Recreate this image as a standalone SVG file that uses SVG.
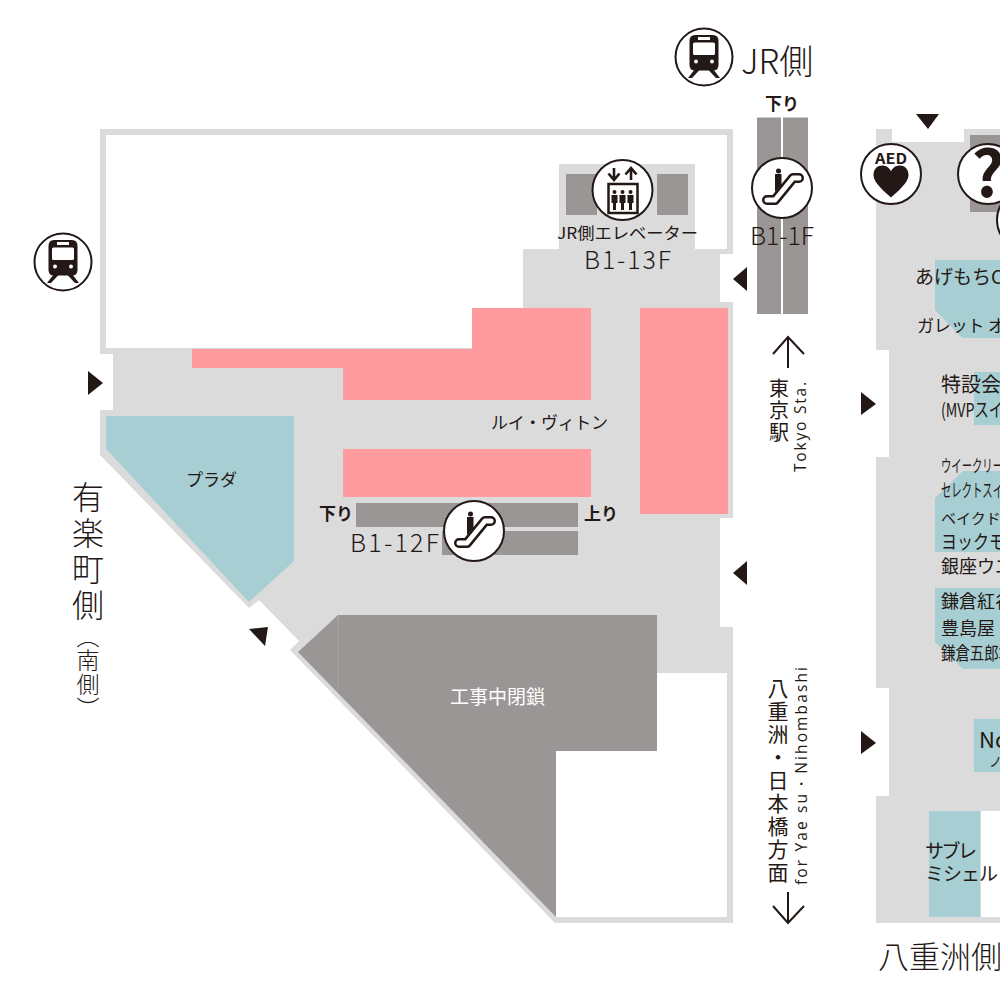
<svg xmlns="http://www.w3.org/2000/svg" width="1000" height="1000" viewBox="0 0 1000 1000">
<style>
.f{fill:#dcdbdc}.w{fill:#fff}.p{fill:#ff9a9e}.t{fill:#a7ced3}.d{fill:#9b9696}.k{fill:#231815}
.c{fill:#fff;stroke:#231815;stroke-width:2}
text{font-family:"Noto Sans CJK JP","Noto Sans",sans-serif;fill:#231815;font-weight:300}
.b{font-weight:700}.r{font-weight:400}
.v{writing-mode:vertical-rl;text-anchor:start}
.lat{font-family:"Open Sans","Noto Sans",sans-serif;font-weight:400}
.ln{fill:none;stroke:#231815;stroke-width:2}
</style>
<defs>
<g id="train"><circle class="c" r="28.5"/>
<path class="k" d="M-9,-22H9Q14.500,-22 14.500,-16V8Q14.500,13.500 9,13.500H-9Q-14.500,13.500 -14.500,8V-16Q-14.500,-22 -9,-22Z"/>
<path class="k" d="M-9,12L-16,21H-12L-4.500,13ZM9,12L16,21H12L4.500,13Z"/>
<rect class="w" x="-11" y="-14.500" width="22" height="12.500" rx="1.500"/>
<rect class="w" x="-6" y="-20" width="12" height="3"/>
<circle class="w" cx="-8" cy="4.500" r="2"/><circle class="w" cx="8" cy="4.500" r="2"/></g>
<g id="esc"><circle class="c" r="30"/>
<circle class="k" cx="-3.500" cy="-17" r="2.500"/>
<path class="k" d="M-7,-14H-0.500V-3L-7,4Z"/>
<path d="M-15,12H-7L11,-10H17" fill="none" stroke="#231815" stroke-width="10" stroke-linecap="round" stroke-linejoin="round"/>
<path d="M-15,12H-7L11,-10H17" fill="none" stroke="#fff" stroke-width="5" stroke-linecap="round" stroke-linejoin="round"/></g>
<g id="pp"><circle class="k" cy="-8" r="2"/><path class="k" d="M-3,-5H3V3H1.500V10H-1.500V3H-3Z"/></g>
</defs>

<g id="left-floor">
<path class="f" d="M100,129H733V254H720V302H733V518H720V627H733V923H555L290,650L299,641L259,600L249,608L100,455V410H113V354H100Z"/>
<path class="w" d="M106,135H727V249H695V164H559V249H523V308H472V348H106Z"/>
<path class="w" d="M657,673H727V917H556V751H657Z"/>
<path class="p" d="M472,308H591V400H343V368H192V349H472Z"/>
<rect class="p" x="640" y="308" width="88" height="206"/>
<rect class="p" x="343" y="449" width="248" height="48"/>
<path class="t" d="M106,416H294V561L249,602L106,449Z"/>
<path class="d" d="M338,615H657V751H556V917L298,652Z"/>
<path d="M338,615V690" stroke="#aaa6a6" stroke-width="1" fill="none"/>
</g>

<g id="right-floor">
<path class="f" d="M876,129H892V142H964V129H1000V923H876V796H889V688H876V457H889V350H876Z"/>
<rect class="d" x="970" y="135" width="30" height="77"/>
<path class="t" d="M935,260H1000V338H962L935,310Z"/>
<rect class="t" x="974" y="372" width="26" height="53"/>
<path class="t" d="M963,471H1000V552H935V498Z"/>
<path class="t" d="M935,588H1000V669H963L935,642Z"/>
<rect class="t" x="974" y="719" width="26" height="53"/>
<rect class="t" x="929" y="811" width="51" height="106"/>
<rect class="w" x="981" y="811" width="19" height="106"/>
</g>

<g id="escalators">
<rect class="d" x="757" y="117.500" width="24" height="196.500"/>
<rect class="d" x="783" y="117.500" width="25" height="196.500"/>
<rect class="d" x="356" y="503" width="222" height="24"/>
<rect class="d" x="442" y="531" width="136" height="24"/>
</g>

<g id="elevator-hall">
<rect class="f" x="559" y="164" width="136" height="90"/>
<rect class="d" x="566" y="174" width="31" height="41"/>
<rect class="d" x="657" y="174" width="31" height="41"/>
<circle class="c" cx="622.500" cy="190" r="30"/>
<rect x="608.500" y="184" width="29" height="29" fill="#fff" stroke="#231815" stroke-width="2.500"/>
<use href="#pp" x="614.500" y="200"/><use href="#pp" x="622.500" y="200"/><use href="#pp" x="630.500" y="200"/>
<path class="ln" stroke-width="2.600" style="stroke-width:2.600" d="M614,168V179M608.500,173.500L614,180L619.500,173.500M631,180V169M625.500,174.500L631,168L636.500,174.500"/>
</g>

<g id="markers">
<path class="k" d="M733,279L747,267V291Z"/>
<path class="k" d="M733,573L747,561V585Z"/>
<path class="k" d="M88,371L103,383L88,395Z"/>
<path class="k" d="M861,392L876,404L861,415Z"/>
<path class="k" d="M861,731L876,743L861,754Z"/>
<path class="k" d="M916,114H939L928,129Z"/>
<path class="k" d="M249,629L268,627L265,646Z"/>
<path class="ln" d="M788,337V368M773,354L788,337L804,354"/>
<path class="ln" d="M788,892V923M773,906L788,923L804,906"/>
</g>

<g id="icons">
<use href="#train" x="704" y="57"/>
<use href="#train" x="63" y="262"/>
<use href="#esc" x="782" y="188"/>
<use href="#esc" x="474" y="531"/>
<circle class="c" cx="891" cy="174" r="30"/>
<text x="875" y="164" class="b" font-size="14.500" textLength="32" lengthAdjust="spacingAndGlyphs">AED</text>
<path class="k" d="M891,197.500C879,187 873.500,181 873.500,175C873.500,163 888,163 891,171.500C894,163 908.500,163 908.500,175C908.500,181 903,187 891,197.500Z"/>
<circle class="c" cx="988" cy="174" r="30"/>
<text x="988" y="197" class="b" font-size="64" text-anchor="middle">?</text>
<circle class="c" cx="1027" cy="220" r="30"/>
</g>

<g id="labels">
<text x="741" y="74" font-size="34">JR側</text>
<text x="765" y="110" class="b" font-size="17">下り</text>
<text x="557" y="239" class="r" font-size="16" textLength="141" lengthAdjust="spacingAndGlyphs">JR側エレベーター</text>
<text x="584" y="269" font-size="25" textLength="87" lengthAdjust="spacing">B1-13F</text>
<text x="750" y="245" font-size="25" textLength="64" lengthAdjust="spacing">B1-1F</text>
<text x="350" y="552" font-size="25" textLength="89" lengthAdjust="spacing">B1-12F</text>
<text x="319" y="520" class="b" font-size="17">下り</text>
<text x="584" y="520" class="b" font-size="17">上り</text>
<text x="491" y="429" class="r" font-size="17" textLength="117">ルイ・ヴィトン</text>
<text x="186" y="486" class="r" font-size="17">プラダ</text>
<text x="450" y="704" class="r" font-size="19" style="fill:#fff">工事中閉鎖</text>

<text x="88" y="481" class="v" font-size="32" letter-spacing="4">有楽町側</text>
<text x="88" y="625" class="v" font-size="23" letter-spacing="1">（南側）</text>
<text x="779" y="378" class="v r" font-size="20" letter-spacing="2">東京駅</text>
<text x="778" y="678" class="v r" font-size="21" letter-spacing="2">八重洲・日本橋方面</text>
<text transform="translate(806,472) rotate(-90)" class="lat" font-size="15.500" textLength="90">Tokyo Sta.</text>
<text transform="translate(807,885) rotate(-90)" class="lat" font-size="15.500" textLength="218">for Yae su・Nihombashi</text>

<text x="915" y="284" class="r" font-size="19">あげもちC</text>
<text x="917" y="332" class="r" font-size="17" textLength="88">ガレット オ</text>
<text x="941" y="392" class="r" font-size="20">特設会</text>
<text x="941" y="417" class="r" font-size="19" textLength="62" lengthAdjust="spacingAndGlyphs">(MVPスイ</text>
<text x="941" y="472" class="r" font-size="17" textLength="62" lengthAdjust="spacingAndGlyphs">ウイークリー</text>
<text x="941" y="497" class="r" font-size="18" textLength="62" lengthAdjust="spacingAndGlyphs">セレクトスイ</text>
<text x="941" y="524" class="r" font-size="15">ベイクド</text>
<text x="941" y="549" class="r" font-size="19" textLength="64" lengthAdjust="spacingAndGlyphs">ヨックモ</text>
<text x="941" y="573" class="r" font-size="18">銀座ウエ</text>
<text x="941" y="608" class="r" font-size="18">鎌倉紅谷</text>
<text x="941" y="635" class="r" font-size="18">豊島屋</text>
<text x="941" y="660" class="r" font-size="18" textLength="72" lengthAdjust="spacingAndGlyphs">鎌倉五郎本</text>
<text x="979" y="748" class="r" font-size="22">No</text>
<text x="989" y="766" class="r" font-size="13">ノ</text>
<text x="925" y="858" class="r" font-size="19" textLength="52">サブレ</text>
<text x="925" y="881" class="r" font-size="19" textLength="73">ミシェル</text>
<text x="878" y="968" font-size="31">八重洲側</text>
</g>
</svg>
